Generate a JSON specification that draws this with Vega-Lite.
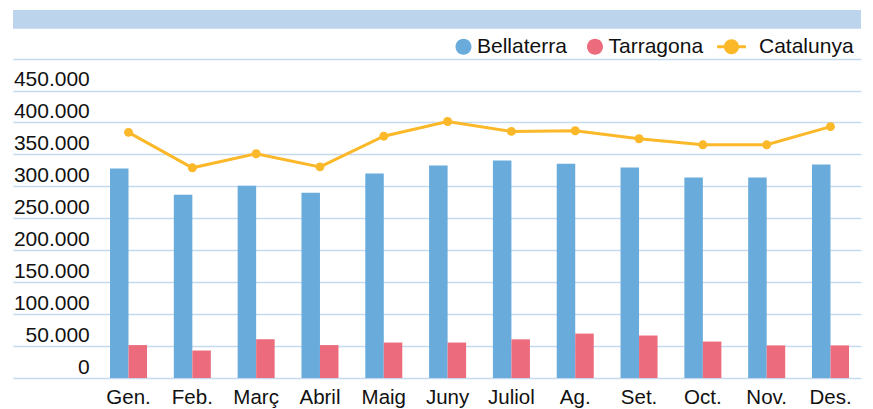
{
  "$schema": "https://vega.github.io/schema/vega-lite/v6.json",
  "width": 848,
  "height": 368,
  "autosize": "none",
  "padding": {"left": 13, "top": 10, "right": 12, "bottom": 31},
  "config": {
    "view": {"stroke": null},
    "font": "Liberation Sans"
  },
  "data": {
    "values": [
      {"mes": "Gen.", "serie": "Bellaterra", "valor": 328000},
      {"mes": "Feb.", "serie": "Bellaterra", "valor": 287000},
      {"mes": "Març", "serie": "Bellaterra", "valor": 301000},
      {"mes": "Abril", "serie": "Bellaterra", "valor": 290000},
      {"mes": "Maig", "serie": "Bellaterra", "valor": 320000},
      {"mes": "Juny", "serie": "Bellaterra", "valor": 332500},
      {"mes": "Juliol", "serie": "Bellaterra", "valor": 340500},
      {"mes": "Ag.", "serie": "Bellaterra", "valor": 335500},
      {"mes": "Set.", "serie": "Bellaterra", "valor": 329500},
      {"mes": "Oct.", "serie": "Bellaterra", "valor": 314000},
      {"mes": "Nov.", "serie": "Bellaterra", "valor": 314000},
      {"mes": "Des.", "serie": "Bellaterra", "valor": 334000},
      {"mes": "Gen.", "serie": "Tarragona", "valor": 51500},
      {"mes": "Feb.", "serie": "Tarragona", "valor": 43000},
      {"mes": "Març", "serie": "Tarragona", "valor": 60500},
      {"mes": "Abril", "serie": "Tarragona", "valor": 51500},
      {"mes": "Maig", "serie": "Tarragona", "valor": 55500},
      {"mes": "Juny", "serie": "Tarragona", "valor": 55500},
      {"mes": "Juliol", "serie": "Tarragona", "valor": 60500},
      {"mes": "Ag.", "serie": "Tarragona", "valor": 69500},
      {"mes": "Set.", "serie": "Tarragona", "valor": 66500},
      {"mes": "Oct.", "serie": "Tarragona", "valor": 57000},
      {"mes": "Nov.", "serie": "Tarragona", "valor": 51000},
      {"mes": "Des.", "serie": "Tarragona", "valor": 51000},
      {"mes": "Gen.", "serie": "Catalunya", "valor": 384500},
      {"mes": "Feb.", "serie": "Catalunya", "valor": 329000},
      {"mes": "Març", "serie": "Catalunya", "valor": 351000},
      {"mes": "Abril", "serie": "Catalunya", "valor": 330500},
      {"mes": "Maig", "serie": "Catalunya", "valor": 378500},
      {"mes": "Juny", "serie": "Catalunya", "valor": 401500},
      {"mes": "Juliol", "serie": "Catalunya", "valor": 386000},
      {"mes": "Ag.", "serie": "Catalunya", "valor": 387000},
      {"mes": "Set.", "serie": "Catalunya", "valor": 374500},
      {"mes": "Oct.", "serie": "Catalunya", "valor": 365000},
      {"mes": "Nov.", "serie": "Catalunya", "valor": 365000},
      {"mes": "Des.", "serie": "Catalunya", "valor": 393500}
    ]
  },
  "layer": [
    {
      "data": {"values": [{}]},
      "mark": {"type": "rect", "color": "#bdd5ec"},
      "encoding": {
        "y": {
          "datum": 546500,
          "type": "quantitative",
          "scale": {"domain": [0, 576000], "nice": false},
          "axis": {
            "title": null,
            "domain": false,
            "ticks": false,
            "tickSize": 0,
            "tickCount": 30,
            "values": [0, 50000, 100000, 150000, 200000, 250000, 300000, 350000, 400000, 450000, 500000],
            "labelExpr": "datum.value >= 500000 ? '' : (datum.value == 0 ? '0' : replace(format(datum.value, ','), ',', '.'))",
            "labelOverlap": false,
            "labelFontSize": 21,
            "labelColor": "#111111",
            "labelAlign": "right",
            "labelBaseline": "alphabetic",
            "labelOffset": -5,
            "labelPadding": -76.3,
            "grid": true,
            "gridColor": "#c6daef",
            "gridWidth": 1.6
          }
        },
        "y2": {"datum": 576000}
      }
    },
    {
      "transform": [{"filter": "datum.serie !== 'Catalunya'"}],
      "mark": {"type": "bar"},
      "encoding": {
        "x": {
          "field": "mes",
          "type": "nominal",
          "sort": null,
          "scale": {"paddingInner": 0.42, "paddingOuter": 0.854, "align": 0.89},
          "axis": {
            "title": null,
            "domain": false,
            "ticks": false,
            "tickSize": 0,
            "grid": false,
            "labelAngle": 0,
            "labelFontSize": 20.5,
            "labelColor": "#111111",
            "labelBaseline": "alphabetic",
            "labelPadding": 25.5
          }
        },
        "xOffset": {
          "field": "serie",
          "type": "nominal",
          "scale": {"domain": ["Bellaterra", "Tarragona"], "paddingInner": 0, "paddingOuter": 0}
        },
        "y": {"field": "valor", "type": "quantitative"},
        "color": {
          "field": "serie",
          "type": "nominal",
          "scale": {
            "domain": ["Bellaterra", "Tarragona", "Catalunya"],
            "range": ["#69acdb", "#ec6b7c", "#fbb829"]
          },
          "legend": {
            "title": null,
            "orient": "none",
            "legendX": 440,
            "legendY": 26,
            "direction": "horizontal",
            "padding": 0,
            "symbolSize": 256,
            "symbolType": "circle",
            "symbolStrokeWidth": 0,
            "labelFontSize": 21,
            "labelColor": "#111111",
            "labelOffset": 3,
            "columnPadding": 13.5,
            "encode": {
              "symbols": {
                "update": {
                  "shape": {"signal": "datum.value === 'Catalunya' ? 'M-1.8,-0.19L1.8,-0.19L1.8,0.19L-1.8,0.19Z M-0.94,0A0.94,0.94 0 1,1 0.94,0A0.94,0.94 0 1,1 -0.94,0Z' : 'M-1.8,0L-1.8,0.001L-1.8,0Z M-1,0A1,1 0 1,1 1,0A1,1 0 1,1 -1,0Z'"},
                  "fill": {"scale": "color", "field": "value"},
                  "strokeWidth": {"value": 0},
                  "opacity": {"value": 1}
                }
              },
              "labels": {
                "update": {
                  "dx": {"signal": "datum.value === 'Catalunya' ? 14 : 0"}
                }
              }
            }
          }
        }
      }
    },
    {
      "transform": [{"filter": "datum.serie === 'Catalunya'"}],
      "mark": {"type": "line", "strokeWidth": 3, "point": {"filled": true, "size": 80}},
      "encoding": {
        "x": {"field": "mes", "type": "nominal", "sort": null},
        "y": {"field": "valor", "type": "quantitative"},
        "color": {"field": "serie", "type": "nominal"}
      }
    }
  ]
}
